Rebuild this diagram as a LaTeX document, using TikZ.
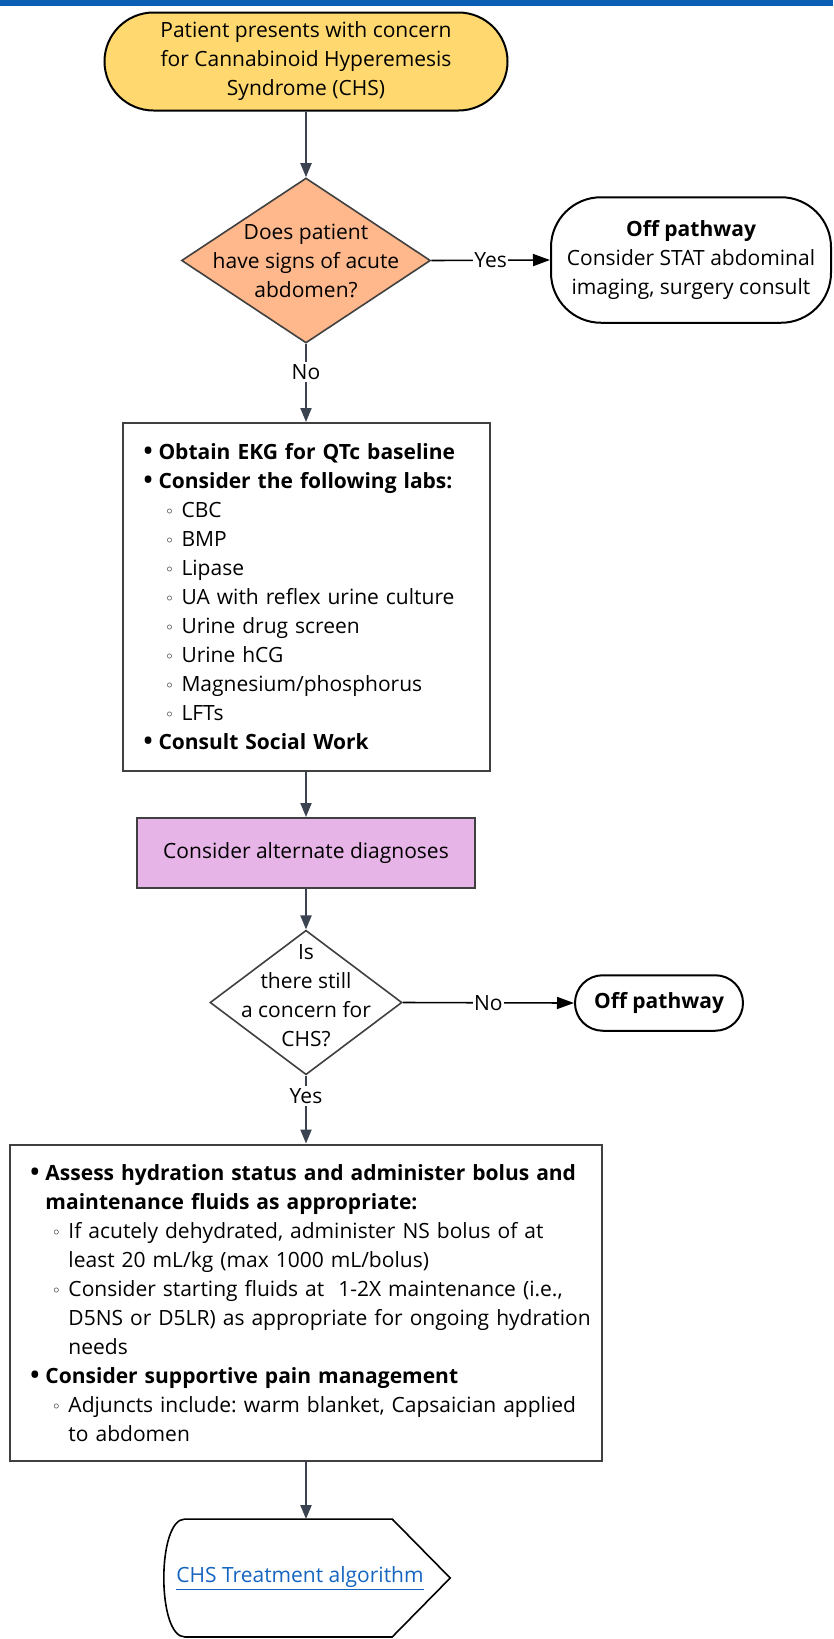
\documentclass[tikz,border=0pt]{standalone}
\usepackage{fontspec}
\setmainfont{Open Sans}
\usepackage{tikz}
\usetikzlibrary{arrows.meta, shapes.geometric, calc, positioning}

\definecolor{topblue}{HTML}{0A5FB4}
\definecolor{startyellow}{HTML}{FFD970}
\definecolor{askpeach}{HTML}{FFB88C}
\definecolor{altviolet}{HTML}{E6B4E6}
\definecolor{flowgray}{HTML}{3B4350}
\definecolor{edgegray}{HTML}{404040}
\definecolor{linkblue}{HTML}{1565C0}

\frenchspacing
\newcommand{\bulpt}{\makebox[15pt][l]{\scalebox{1.15}{\textbf{\textbullet}}}}
\newcommand{\subpt}{\hspace*{23pt}\makebox[15pt][l]{\raisebox{3pt}{\fontsize{13}{13}\selectfont$\circ$}}}
\newcommand{\contpt}{\hspace*{38pt}}

\begin{document}
\begin{tikzpicture}[x=1pt, y=-1pt, font=\fontsize{21}{29}\selectfont,
    flow/.style={draw=flowgray, line width=2pt, -{Triangle[length=14pt,width=11pt]}},
    side/.style={draw=black, line width=1.6pt, -{Triangle[length=17pt,width=12pt]}},
    box/.style={draw=edgegray, line width=2pt, rectangle, inner sep=0pt, align=left},
    ask/.style={diamond, draw=edgegray, line width=1.6pt, inner sep=0pt},
    offbox/.style={draw=black, line width=2pt, align=center, inner sep=0pt}]
    \useasboundingbox (0,0) rectangle (833,1639);
    \fill[topblue] (0,0) rectangle (833,6);

    % start and first question
    \node[offbox, fill=startyellow, minimum width=403pt, minimum height=98pt, rounded corners=49pt] (start) at (306,61.5) {Patient presents with concern\\for Cannabinoid Hyperemesis\\Syndrome (CHS)};
    \node[ask, fill=askpeach, minimum width=249pt, minimum height=165pt, label={[align=center]center:Does patient\\have signs of acute\\abdomen?}] (acute) at (306,260.5) {};
    \node[offbox, minimum width=280pt, minimum height=125.5pt, rounded corners=50pt] (surg) at (691,260) {\textbf{Off pathway}\\Consider STAT abdominal\\imaging, surgery consult};

    % labs
    \node[box, minimum width=367pt, minimum height=348pt, text width=325pt] (labs) at (306,597) {\bulpt\textbf{Obtain EKG for QTc baseline}\\
        \bulpt\textbf{Consider the following labs:}\\
        \subpt CBC\\
        \subpt BMP\\
        \subpt Lipase\\
        \subpt UA with reflex urine culture\\
        \subpt Urine drug screen\\
        \subpt Urine hCG\\
        \subpt Magnesium/phosphorus\\
        \subpt LFTs\\
        \bulpt\textbf{Consult Social Work}};
    \node[box, fill=altviolet, align=center, minimum width=337.5pt, minimum height=70pt] (alt) at (306,853) {Consider alternate diagnoses};

    % second question
    \node[ask, fill=white, minimum width=192pt, minimum height=144.5pt, label={[align=center, yshift=6.5pt]center:Is\\there still\\a concern for\\CHS?}] (still) at (306,1002.5) {};
    \node[offbox, minimum width=168pt, minimum height=55.5pt, rounded corners=27.7pt, font=\fontsize{21}{29}\selectfont\bfseries] (offpath) at (659,1003) {Off pathway};

    % fluids
    \node[box, minimum width=591.5pt, minimum height=316.5pt, text width=551pt] (fluids) at (306,1302.8) {\bulpt\textbf{Assess hydration status and administer bolus and}\\
        \hspace*{15pt}\textbf{maintenance fluids as appropriate:}\\
        \subpt If acutely dehydrated, administer NS bolus of at\\
        \contpt least 20 mL/kg (max 1000 mL/bolus)\\
        \subpt Consider starting fluids at\ \ 1-2X maintenance (i.e.,\\
        \contpt\mbox{D5NS or D5LR) as appropriate for ongoing hydration}\\
        \contpt needs\\
        \bulpt\textbf{Consider supportive pain management}\\
        \subpt Adjuncts include: warm blanket, Capsaician applied\\
        \contpt to abdomen};

    % link to treatment algorithm
    \node[minimum width=288pt, minimum height=117.5pt, inner sep=0pt, label={[text=linkblue, xshift=-6pt]center:\underline{CHS Treatment algorithm}}] (algo) at (306,1578) {};
    \draw[line width=1.6pt] ($(algo.north west)+(23,0)$) -- ($(algo.north east)+(-58,0)$) -- (algo.east) -- ($(algo.south east)+(-58,0)$) -- ($(algo.south west)+(23,0)$) .. controls ($(algo.south west)+(-5,0)$) and ($(algo.north west)+(-5,0)$) .. cycle;

    % connectors
    \draw[flow] (start.south) -- (acute.north);
    \draw[side] (acute.east) -- node[fill=white, inner sep=1pt] {Yes} (surg.west);
    \draw[flow] (acute.south) -- node[pos=0.36, fill=white, inner sep=2pt] {No} (labs.north);
    \draw[flow] (labs.south) -- (alt.north);
    \draw[flow] (alt.south) -- (still.north);
    \draw[side] (still.east) -- node[fill=white, inner sep=1pt] {No} (offpath.west);
    \draw[flow] (still.south) -- node[pos=0.3, fill=white, inner sep=2pt] {Yes} (fluids.north);
    \draw[flow] (fluids.south) -- (algo.north);
\end{tikzpicture}
\end{document}
